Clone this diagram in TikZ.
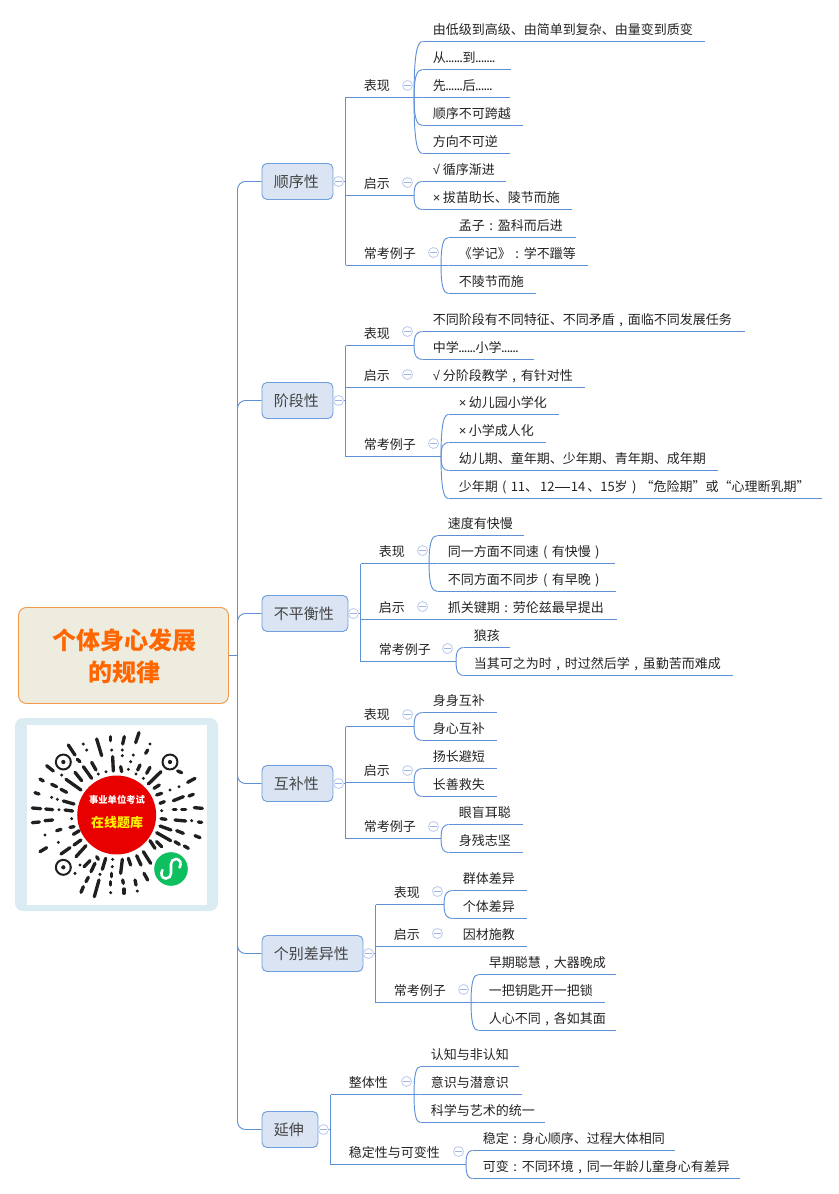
\documentclass[tikz,border=0pt]{standalone}
\usepackage{fontspec}
\setmainfont{Noto Sans CJK SC}
\newfontfamily\libf{Liberation Sans}
\usetikzlibrary{calc}
\definecolor{linkc}{HTML}{5E90D8}
\definecolor{boxf}{HTML}{DAE4F2}
\definecolor{boxd}{HTML}{6E9FE0}
\definecolor{txtc}{HTML}{222222}
\definecolor{rootf}{HTML}{EEEBDF}
\definecolor{rootd}{HTML}{F2994A}
\definecolor{roott}{HTML}{FF6600}
\definecolor{qrbg}{HTML}{DAEBF2}
\definecolor{qrred}{HTML}{E80000}
\definecolor{qrgreen}{HTML}{0DBF5F}
\definecolor{foldd}{HTML}{C3CFF0}
\definecolor{foldm}{HTML}{9FB2E4}
\tikzset{
  conn/.style={draw=linkc,line width=0.7pt},
  rowbox/.style={inner sep=0pt,minimum height=18pt,anchor=south west,align=left,
     text=txtc,font=\fontsize{9.75}{12}\selectfont,text height=9.2pt,text depth=1pt},
  branch/.style={draw=boxd,fill=boxf,rounded corners=3.8pt,line width=0.7pt,inner sep=0pt,
     minimum height=27pt,anchor=west,text=txtc!85!white,font=\fontsize{11.25}{13}\selectfont,
     text height=10.4pt,text depth=1pt},
  foldc/.style={circle,draw=foldd,fill=white,line width=0.7pt,minimum size=7.5pt,inner sep=0pt,
     path picture={\draw[foldm,line width=0.6pt] ($(path picture bounding box.center)+(-2.3pt,0)$)--($(path picture bounding box.center)+(2.3pt,0)$);}},
  qrdash/.style={line width=2.5pt,line cap=round,draw=black!88},
}
% centred full-width punctuation and the narrow marks of the reference
\newcommand\Cm{\makebox[1em][c]{,}}
\newcommand\Cl{\makebox[1em][c]{:}}
\newcommand\Lp{\makebox[1em][c]{(}}
\newcommand\Rp{\makebox[1em][c]{)}}
\newcommand\Lq{\makebox[1em][r]{“}}
\newcommand\Rq{\makebox[1em][l]{”}}
\newcommand\Dt{\makebox[2.1pt][c]{.}}
\newcommand\Ck{\makebox[7.5pt][l]{\libf √}}
\newcommand\Xx{\makebox[7.5pt][l]{\libf ×}}
% name, x0, yline, x1, text offset, text
\newcommand\nd[6]{%
  \pgfmathsetlengthmacro\rowW{(#4-#2)*0.75pt}%
  \node[rowbox,text width=\rowW] (#1) at (#2,#3) {\mbox{\hspace*{\dimexpr #5pt*3/4\relax}#6}};%
  \draw[conn] (#1.south west) -- (#1.south east);}
\newcommand\curv[2]{%
  \draw[conn] (#1.south east) .. controls ($(#1.south east)!0.72!(#1.south east |- #2.south west)$)
     and ($(#1.south east |- #2.south west)!0.3!(#2.south west)$) .. (#2.south west);}
\newcommand\spine[2]{\draw[conn] (#1) -- (#2.south west);}
\begin{document}
\begin{tikzpicture}[x=0.75pt,y=-0.75pt]
\useasboundingbox (0,0) rectangle (838,1194);
\begin{scope}[shift={(-0.5,0.5)}]

% root
\node[draw=rootd,fill=rootf,rounded corners=6pt,line width=0.7pt,minimum width=157.5pt,minimum height=72pt,
  inner sep=0pt,align=center,text=roott,font=\fontsize{18}{24}\selectfont\bfseries] (root) at (124,655) {\rule{0pt}{17pt}\hspace*{1pt}个体身心发展\\\hspace*{1pt}的规律};
\coordinate (trunk) at (238,655);
\draw[conn] (root.east) -- (trunk);

% branches
\node[branch,minimum width=53.25pt] (b1) at (262,181) {\hspace*{-1.5pt}顺序性};
\node[branch,minimum width=53.25pt] (b2) at (262,400) {\hspace*{-1.5pt}阶段性};
\node[branch,minimum width=64.5pt] (b3) at (262,613) {\hspace*{-1.5pt}不平衡性};
\node[branch,minimum width=53.25pt] (b4) at (262,783) {\hspace*{-1.5pt}互补性};
\node[branch,minimum width=75.75pt] (b5) at (262,953) {\hspace*{-1.5pt}个别差异性};
\node[branch,minimum width=42pt] (b6) at (262,1129) {\hspace*{-1.5pt}延伸};
\foreach \b in {b1,b2,b3,b4,b5,b6}{\draw[conn,rounded corners=6pt] (trunk) |- (\b.west);}

% ---- branch 1
\coordinate (s1) at (346,181);
\draw[conn] (b1.east) -- (s1);
\nd{a1}{346}{97}{414}{18}{表现}
\nd{a2}{346}{195}{414}{18}{启示}
\nd{a3}{346}{265}{441}{18}{常考例子}
\spine{s1}{a1}\spine{s1}{a2}\spine{s1}{a3}
\nd{a11}{423}{41}{705}{10}{由低级到高级、由简单到复杂、由量变到质变}
\nd{a12}{423}{69}{511}{10}{从\Dt\Dt\Dt\Dt\Dt\Dt 到\Dt\Dt\Dt\Dt\Dt\Dt\Dt}
\nd{a13}{423}{97}{510}{10}{先\Dt\Dt\Dt\Dt\Dt\Dt 后\Dt\Dt\Dt\Dt\Dt\Dt}
\nd{a14}{423}{125}{523}{10}{顺序不可跨越}
\nd{a15}{423}{153}{510}{10}{方向不可逆}
\curv{a1}{a11}\curv{a1}{a12}\curv{a1}{a13}\curv{a1}{a14}\curv{a1}{a15}
\nd{a21}{423}{181}{506}{10}{\Ck 循序渐进}
\nd{a22}{423}{209}{572}{10}{\Xx 拔苗助长、陵节而施}
\curv{a2}{a21}\curv{a2}{a22}
\nd{a31}{449}{237}{576}{10}{孟子\Cl 盈科而后进}
\nd{a32}{449}{265}{588}{10}{《学记》\Cl 学不躐等}
\nd{a33}{449}{293}{536}{10}{不陵节而施}
\curv{a3}{a31}\curv{a3}{a32}\curv{a3}{a33}
\node[foldc] (f1) at (339,181) {};
\node[foldc] (f11) at (408,85) {};
\node[foldc] (f12) at (408,182) {};
\node[foldc] (f13) at (434,252) {};

% ---- branch 2
\coordinate (s2) at (346,400);
\draw[conn] (b2.east) -- (s2);
\nd{c1}{346}{345}{414}{18}{表现}
\nd{c2}{346}{387}{414}{18}{启示}
\nd{c3}{346}{456}{441}{18}{常考例子}
\spine{s2}{c1}\spine{s2}{c2}\spine{s2}{c3}
\nd{c11}{423}{331}{745}{10}{不同阶段有不同特征、不同矛盾\Cm 面临不同发展任务}
\nd{c12}{423}{359}{534}{10}{中学\Dt\Dt\Dt\Dt\Dt\Dt 小学\Dt\Dt\Dt\Dt\Dt\Dt}
\curv{c1}{c11}\curv{c1}{c12}
\nd{c21}{414}{387}{585}{19}{\Ck 分阶段教学\Cm 有针对性}
\curv{c2}{c21}
\nd{c31}{449}{414}{559}{10}{\Xx 幼儿园小学化}
\nd{c32}{449}{442}{546}{10}{\Xx 小学成人化}
\nd{c33}{449}{470}{718}{10}{幼儿期、童年期、少年期、青年期、成年期}
\nd{c34}{449}{498}{822}{10}{少年期\Lp 11、\hspace{1.5pt}12\makebox[1.25em][c]{\rule[3.2pt]{11pt}{0.65pt}}14\hspace{1.5pt}、15岁\Rp\Lq 危险期\Rq 或\Lq 心理断乳期\Rq}
\curv{c3}{c31}\curv{c3}{c32}\curv{c3}{c33}\curv{c3}{c34}
\node[foldc] (f2) at (339,400) {};
\node[foldc] (f21) at (408,331) {};
\node[foldc] (f22) at (408,374) {};
\node[foldc] (f23) at (434,443) {};

% ---- branch 3
\coordinate (s3) at (361,613);
\draw[conn] (b3.east) -- (s3);
\nd{d1}{361}{563}{429}{18}{表现}
\nd{d2}{361}{619}{429}{18}{启示}
\nd{d3}{361}{661}{456}{18}{常考例子}
\spine{s3}{d1}\spine{s3}{d2}\spine{s3}{d3}
\nd{d11}{438}{535}{524}{10}{速度有快慢}
\nd{d12}{438}{563}{615}{10}{同一方面不同速\Lp 有快慢\Rp}
\nd{d13}{438}{591}{616}{10}{不同方面不同步\Lp 有早晚\Rp}
\curv{d1}{d11}\curv{d1}{d12}\curv{d1}{d13}
\nd{d21}{429}{619}{617}{19}{抓关键期\Cl 劳伦兹最早提出}
\curv{d2}{d21}
\nd{d31}{464}{647}{510}{10}{狼孩}
\nd{d32}{464}{675}{733}{10}{当其可之为时\Cm 时过然后学\Cm 虽勤苦而难成}
\curv{d3}{d31}\curv{d3}{d32}
\node[foldc] (f3) at (354,613) {};
\node[foldc] (f31) at (423,550) {};
\node[foldc] (f32) at (423,606) {};
\node[foldc] (f33) at (448,648) {};

% ---- branch 4
\coordinate (s4) at (346,783);
\draw[conn] (b4.east) -- (s4);
\nd{e1}{346}{726}{414}{18}{表现}
\nd{e2}{346}{782}{414}{18}{启示}
\nd{e3}{346}{838}{441}{18}{常考例子}
\spine{s4}{e1}\spine{s4}{e2}\spine{s4}{e3}
\nd{e11}{423}{712}{497}{10}{身身互补}
\nd{e12}{423}{740}{497}{10}{身心互补}
\curv{e1}{e11}\curv{e1}{e12}
\nd{e21}{423}{768}{497}{10}{扬长避短}
\nd{e22}{423}{796}{497}{10}{长善救失}
\curv{e2}{e21}\curv{e2}{e22}
\nd{e31}{449}{824}{523}{10}{眼盲耳聪}
\nd{e32}{449}{852}{523}{10}{身残志坚}
\curv{e3}{e31}\curv{e3}{e32}
\node[foldc] (f4) at (339,783) {};
\node[foldc] (f41) at (408,714) {};
\node[foldc] (f42) at (408,770) {};
\node[foldc] (f43) at (434,826) {};

% ---- branch 5
\coordinate (s5) at (376,953);
\draw[conn] (b5.east) -- (s5);
\nd{g1}{376}{904}{444}{18}{表现}
\nd{g2}{376}{946}{444}{18}{启示}
\nd{g3}{376}{1002}{471}{18}{常考例子}
\spine{s5}{g1}\spine{s5}{g2}\spine{s5}{g3}
\nd{g11}{453}{890}{527}{10}{群体差异}
\nd{g12}{453}{918}{527}{10}{个体差异}
\curv{g1}{g11}\curv{g1}{g12}
\nd{g21}{444}{946}{527}{19}{因材施教}
\curv{g2}{g21}
\nd{g31}{479}{974}{616}{10}{早期聪慧\Cm 大器晚成}
\nd{g32}{479}{1002}{605}{10}{一把钥匙开一把锁}
\nd{g33}{479}{1030}{616}{10}{人心不同\Cm 各如其面}
\curv{g3}{g31}\curv{g3}{g32}\curv{g3}{g33}
\node[foldc] (f5) at (369,953) {};
\node[foldc] (f51) at (438,891) {};
\node[foldc] (f52) at (438,933) {};
\node[foldc] (f53) at (464,989) {};

% ---- branch 6
\coordinate (s6) at (331,1129);
\draw[conn] (b6.east) -- (s6);
\nd{h1}{331}{1094}{414}{18}{整体性}
\nd{h2}{331}{1164}{466}{18}{稳定性与可变性}
\spine{s6}{h1}\spine{s6}{h2}
\nd{h11}{421}{1066}{519}{10}{认知与非认知}
\nd{h12}{421}{1094}{522}{10}{意识与潜意识}
\nd{h13}{421}{1122}{545}{10}{科学与艺术的统一}
\curv{h1}{h11}\curv{h1}{h12}\curv{h1}{h13}
\nd{h21}{473}{1150}{675}{10}{稳定\Cl 身心顺序、过程大体相同}
\nd{h22}{473}{1178}{740}{10}{可变\Cl 不同环境\Cm 同一年龄儿童身心有差异}
\curv{h2}{h21}\curv{h2}{h22}
\node[foldc] (f6) at (324,1129) {};
\node[foldc] (f61) at (407,1081) {};
\node[foldc] (f62) at (459,1151) {};
\end{scope}

% ---- QR panel
\fill[qrbg,rounded corners=6pt] (15,718) rectangle (218,911);
\fill[white] (27,725) rectangle (207,905);
\begin{scope}[shift={(0,590)},x=0.25pt,y=-0.25pt]
\foreach \xa/\ya/\xb/\yb in {205/465/225/495,250/462/250/462,260/480/260/480,290/447/305/497,332/440/332/452,335/480/335/480,373/440/368/462,367/480/367/480,367/497/367/497,417/428/407/458,400/495/400/495,450/462/450/462,443/480/437/490,
338/500/340/543,318/545/318/545,362/530/365/545,392/515/392/515,385/538/385/538,420/525/413/540,408/552/408/552,450/532/440/550,483/545/445/582,430/565/430/565,
232/508/240/515,275/517/288/540,295/552/295/552,250/530/275/565,225/547/245/572,140/527/160/543,185/555/185/555,198/568/243/600,120/567/130/573,155/583/170/590,183/598/200/607,105/608/117/612,155/622/155/622,172/628/172/628,190/633/222/642,97/654/122/656,137/657/158/659,177/659/177/659,195/660/218/663,97/698/118/696,135/692/158/690,215/686/215/686,210/712/222/710,170/722/183/718,135/735/135/735,175/757/175/757,220/733/238/722,222/765/243/750,120/785/140/773,183/792/210/773,228/800/258/767,240/825/240/825,290/800/295/808,270/812/252/830,225/850/225/850,317/805/307/838,285/820/273/845,300/853/300/853,265/862/258/875,243/907/250/890,283/920/297/870,338/808/338/808,337/830/337/830,335/850/335/860,332/875/332/885,332/908/332/908,367/808/362/850,385/805/392/825,410/797/423/825,430/785/452/820,368/870/370/880,372/897/372/910,405/870/408/885,412/903/412/903,432/850/443/870,450/752/465/775,470/755/485/770,470/728/512/752,480/708/513/720,530/722/550/730,525/755/538/763,553/768/565/775,585/737/600/743,525/690/557/693,575/692/575/692,595/696/605/697,483/686/498/688,485/662/485/662,520/658/528/658,545/658/557/658,583/653/607/655,520/632/550/620,567/618/580/613,480/640/493/635,470/615/485/610,510/600/510/600,537/590/537/590,462/595/478/585,563/577/585/565,533/543/545/548}
  {\draw[qrdash] (\xa,\ya) -- (\xb,\yb);}
\foreach \xa/\ya in {190/516,510/516,190/832}
  {\draw[black!88,line width=1.5pt] (\xa,\ya) circle[radius=5.6pt];
   \fill[black!88] (\xa,\ya) circle[radius=1.6pt];}
\end{scope}
\fill[qrred] (116.7,815) circle[radius=29.6pt];
\node[inner sep=0pt,text=white,font=\fontsize{7}{8}\selectfont\bfseries] (qr1) at (117,800) {事业单位考试};
\node[inner sep=0pt,text=yellow,font=\fontsize{9.75}{11}\selectfont\bfseries] (qr2) at (117,823) {在线题库};
\fill[qrgreen] (171,869) circle[radius=12.6pt];
\draw[white,line width=1.9pt,line cap=round] (162.5,870) .. controls (160,874) and (162,878.5) .. (166,878.5)
  .. controls (169,878.5) and (171,876) .. (171,873.5) -- (171,864)
  .. controls (171,861.5) and (173,859) .. (176,859) .. controls (180,859) and (182,863.5) .. (179.5,867.5);
\end{tikzpicture}
\end{document}
